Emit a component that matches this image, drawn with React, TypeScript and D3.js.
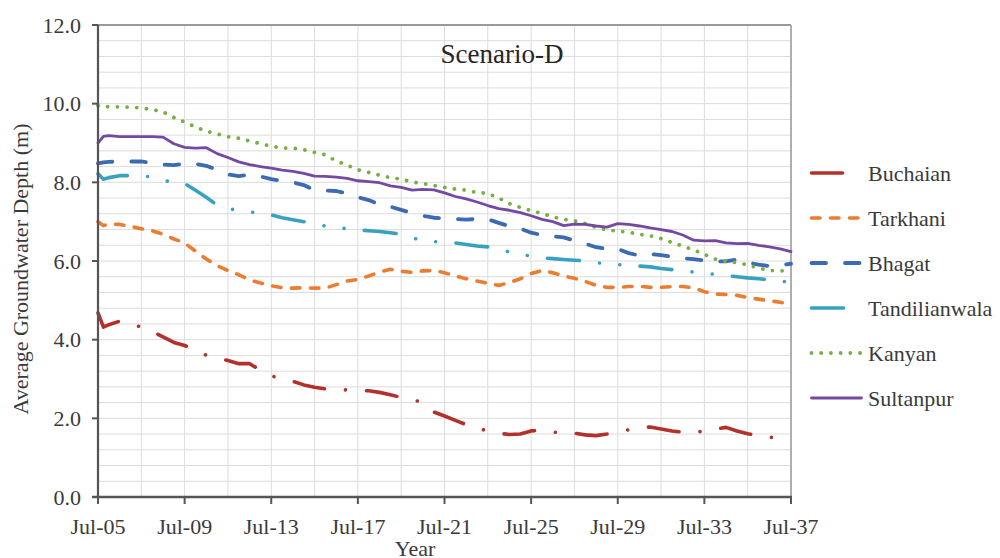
import React from "react";
import * as d3 from "d3";

// ---- Data ----
const DATES = [
  "2005-07", "2005-10", "2006-01", "2006-07", "2007-01", "2007-07", "2008-01", "2008-07",
  "2009-01", "2009-07", "2010-01", "2010-07", "2011-01", "2011-07", "2012-01", "2012-07",
  "2013-01", "2013-07", "2014-01", "2014-07", "2015-01", "2015-07", "2016-01", "2016-07",
  "2017-01", "2017-07", "2018-01", "2018-07", "2019-01", "2019-07", "2020-01", "2020-07",
  "2021-01", "2021-07", "2022-01", "2022-07", "2023-01", "2023-07", "2024-01", "2024-07",
  "2025-01", "2025-07", "2026-01", "2026-07", "2027-01", "2027-07", "2028-01", "2028-07",
  "2029-01", "2029-07", "2030-01", "2030-07", "2031-01", "2031-07", "2032-01", "2032-07",
  "2033-01", "2033-07", "2034-01", "2034-07", "2035-01", "2035-07", "2036-01", "2036-07",
  "2037-01", "2037-07",
];

const BUCHAIAN = [
  4.68, 4.32, 4.38, 4.47, 4.40, 4.32, 4.21, 4.07, 3.93, 3.85,
  3.75, 3.60, 3.53, 3.47, 3.39, 3.39, 3.22, 3.08, 3.00, 2.94,
  2.85, 2.79, 2.75, 2.74, 2.72, 2.71, 2.70, 2.66, 2.60, 2.53,
  2.48, 2.40, 2.16, 2.06, 1.95, 1.84, 1.75, 1.68, 1.62, 1.59,
  1.60, 1.68, 1.70, 1.65, 1.63, 1.62, 1.58, 1.56, 1.60, 1.65,
  1.71, 1.76, 1.78, 1.73, 1.68, 1.65, 1.65, 1.67, 1.73, 1.77,
  1.68, 1.61, 1.56, 1.52, 1.50, 1.47,
];
const TARKHANI = [
  7.00, 6.90, 6.94, 6.93, 6.88, 6.82, 6.77, 6.68, 6.56, 6.46,
  6.25, 6.05, 5.88, 5.76, 5.65, 5.52, 5.44, 5.37, 5.32, 5.31,
  5.32, 5.31, 5.31, 5.40, 5.49, 5.53, 5.62, 5.72, 5.79, 5.74,
  5.71, 5.75, 5.76, 5.70, 5.62, 5.55, 5.49, 5.43, 5.38, 5.45,
  5.55, 5.68, 5.76, 5.70, 5.62, 5.56, 5.48, 5.38, 5.33, 5.33,
  5.35, 5.36, 5.33, 5.33, 5.35, 5.35, 5.32, 5.22, 5.16, 5.15,
  5.13, 5.07, 5.03, 4.99, 4.95, 4.90,
];
const BHAGAT = [
  8.48, 8.51, 8.52, 8.53, 8.53, 8.53, 8.49, 8.45, 8.44, 8.47,
  8.47, 8.42, 8.32, 8.20, 8.16, 8.19, 8.15, 8.08, 8.04, 8.00,
  7.93, 7.80, 7.79, 7.78, 7.72, 7.62, 7.55, 7.44, 7.38, 7.30,
  7.22, 7.15, 7.10, 7.08, 7.07, 7.05, 7.07, 7.06, 6.97, 6.88,
  6.82, 6.72, 6.66, 6.63, 6.60, 6.52, 6.44, 6.35, 6.31, 6.31,
  6.20, 6.14, 6.18, 6.15, 6.11, 6.07, 6.05, 6.01, 5.99, 5.99,
  6.04, 5.96, 5.91, 5.87, 5.89, 5.93,
];
const TANDILIANWALA = [
  8.22, 8.08, 8.12, 8.17, 8.17, 8.16, 8.14, 8.05, 8.00, 7.97,
  7.80, 7.62, 7.42, 7.33, 7.29, 7.25, 7.21, 7.17, 7.10, 7.05,
  7.00, 6.94, 6.89, 6.85, 6.82, 6.79, 6.77, 6.75, 6.72, 6.68,
  6.59, 6.52, 6.49, 6.48, 6.46, 6.42, 6.38, 6.36, 6.29, 6.23,
  6.18, 6.12, 6.08, 6.06, 6.04, 6.02, 6.00, 5.96, 5.93, 5.91,
  5.89, 5.87, 5.85, 5.81, 5.78, 5.75, 5.72, 5.69, 5.66, 5.63,
  5.60, 5.57, 5.55, 5.52, 5.49, 5.46,
];
const KANYAN = [
  9.95, 9.93, 9.92, 9.92, 9.91, 9.89, 9.85, 9.79, 9.65, 9.53,
  9.41, 9.30, 9.23, 9.16, 9.12, 9.05, 8.98, 8.92, 8.87, 8.87,
  8.83, 8.76, 8.70, 8.54, 8.44, 8.32, 8.25, 8.18, 8.12, 8.08,
  8.01, 7.97, 7.92, 7.87, 7.83, 7.80, 7.74, 7.72, 7.60, 7.46,
  7.36, 7.28, 7.21, 7.12, 7.06, 7.02, 6.95, 6.85, 6.79, 6.76,
  6.73, 6.68, 6.64, 6.57, 6.47, 6.38, 6.28, 6.17, 6.05, 5.99,
  5.96, 5.90, 5.82, 5.76, 5.75, 5.75,
];
const SULTANPUR = [
  9.00, 9.17, 9.19, 9.16, 9.16, 9.16, 9.16, 9.15, 8.98, 8.89,
  8.87, 8.88, 8.73, 8.63, 8.52, 8.45, 8.40, 8.36, 8.31, 8.28,
  8.23, 8.16, 8.15, 8.13, 8.10, 8.04, 8.02, 7.99, 7.91, 7.87,
  7.80, 7.82, 7.81, 7.73, 7.64, 7.58, 7.50, 7.41, 7.33, 7.29,
  7.23, 7.15, 7.06, 7.00, 6.90, 6.94, 6.93, 6.89, 6.86, 6.95,
  6.93, 6.89, 6.84, 6.80, 6.75, 6.66, 6.53, 6.51, 6.52, 6.46,
  6.44, 6.45, 6.40, 6.36, 6.31, 6.24,
];

const SERIES_NAMES = ["Buchaian", "Tarkhani", "Bhagat", "Tandilianwala", "Kanyan", "Sultanpur"];
const SERIES_VALUES = [BUCHAIAN, TARKHANI, BHAGAT, TANDILIANWALA, KANYAN, SULTANPUR];

const X_TICKS = ["2005-07", "2009-07", "2013-07", "2017-07", "2021-07", "2025-07", "2029-07", "2033-07", "2037-07"];
const Y_TICKS = [0, 2, 4, 6, 8, 10, 12];

const TITLE = "Scenario-D";
const Y_TITLE = "Average Groundwater Depth (m)";
const X_TITLE = "Year";

// ---- Styles ----
const STYLES = [
  { color: "#B3312C", dash: "31 21 0.01 21", width: 3.6 },
  { color: "#EC7D30", dash: "8.5 10.5", width: 3.6 },
  { color: "#3C6BB3", dash: "14.5 19", width: 3.8 },
  { color: "#37A1BF", dash: "32 20.3 0.01 20.3 0.01 20.3", width: 3.6 },
  { color: "#74AF3F", dash: "0.01 9.7", width: 3.8 },
  { color: "#7449A1", dash: "", width: 2.8 },
];

const FONT = "'Liberation Serif', 'Times New Roman', serif";
const TEXT = "#3a3a3a";

export default function App() {
  const W = 1000, H = 558;
  const L = 98, R = 791, T = 25, B = 497;
  const parse = d3.timeParse("%Y-%m");
  const dates = DATES.map((d) => parse(d) as Date);
  const x = d3.scaleTime().domain([parse("2005-07") as Date, parse("2037-07") as Date]).range([L, R]);
  const y = d3.scaleLinear().domain([0, 12]).range([B, T]);
  const fmt = d3.timeFormat("%b-%y");

  const gridX = d3.range(2005, 2038, 2).map((yr) => new Date(yr, 6, 1));
  const gridY = d3.range(1, 30).map((i) => i * 0.4);

  const line = d3
    .line<number>()
    .x((_, i) => x(dates[i]))
    .y((v) => y(v));

  const legendX0 = 811.5, legendX1 = 861.5, legendY0 = 173, legendDY = 45;

  return (
    <svg width={W} height={H} style={{ position: "absolute", left: 0, top: 0, background: "#fff" }}>
      <rect x={0} y={0} width={W} height={H} fill="#fff" />
      {/* grid */}
      <g stroke="#dcdcdc" strokeWidth={1}>
        {gridY.map((v, i) => (
          <line key={"gy" + i} x1={L} x2={R} y1={y(v)} y2={y(v)} />
        ))}
        {gridX.map((d, i) => (
          <line key={"gx" + i} x1={x(d)} x2={x(d)} y1={T} y2={B} />
        ))}
      </g>
      {/* plot border */}
      <line x1={L} x2={R} y1={T} y2={T} stroke="#9a9a9a" strokeWidth={1.8} />
      <line x1={R} x2={R} y1={T} y2={B} stroke="#a8a8a8" strokeWidth={1.8} />

      {/* series */}
      {SERIES_VALUES.map((vals, si) => {
        const n = Math.min(vals.length, dates.length);
        const st = STYLES[si];
        return (
          <path
            key={SERIES_NAMES[si]}
            d={line(vals.slice(0, n)) || ""}
            fill="none"
            stroke={st.color}
            strokeWidth={st.width}
            strokeDasharray={st.dash || undefined}
            strokeLinecap="round"
            strokeLinejoin="round"
          />
        );
      })}

      {/* axes */}
      <line x1={L} x2={L} y1={T} y2={B + 1} stroke="#555" strokeWidth={2.2} />
      <line x1={L - 6} x2={R + 1} y1={B} y2={B} stroke="#555" strokeWidth={2.4} />
      {Y_TICKS.map((v) => (
        <g key={"yt" + v}>
          <line x1={L - 6} x2={L} y1={y(v)} y2={y(v)} stroke="#555" strokeWidth={2} />
          <text x={81} y={y(v) + 7.5} textAnchor="end" fontFamily={FONT} fontSize={22} fill={TEXT}>
            {d3.format(".1f")(v)}
          </text>
        </g>
      ))}
      {X_TICKS.map((s) => {
        const d = parse(s) as Date;
        return (
          <g key={"xt" + s}>
            <line x1={x(d)} x2={x(d)} y1={B} y2={B + 7} stroke="#555" strokeWidth={2} />
            <text x={x(d)} y={534} textAnchor="middle" fontFamily={FONT} fontSize={22} fill={TEXT}>
              {fmt(d)}
            </text>
          </g>
        );
      })}

      {/* titles */}
      <text x={502} y={63} textAnchor="middle" fontFamily={FONT} fontSize={27} fill="#262626">
        {TITLE}
      </text>
      <text
        transform={`translate(28, ${(T + B) / 2 + 8}) rotate(-90)`}
        textAnchor="middle"
        fontFamily={FONT}
        fontSize={22}
        fill={TEXT}
      >
        {Y_TITLE}
      </text>
      <text x={415} y={556} textAnchor="middle" fontFamily={FONT} fontSize={22} fill={TEXT}>
        {X_TITLE}
      </text>

      {/* legend */}
      {SERIES_NAMES.map((name, i) => {
        const st = STYLES[i];
        const ly = legendY0 + i * legendDY;
        return (
          <g key={"lg" + name}>
            <path
              d={`M${legendX0},${ly}L${legendX1},${ly}`}
              stroke={st.color}
              strokeWidth={st.width}
              strokeDasharray={st.dash || undefined}
              strokeLinecap="round"
              fill="none"
            />
            <text x={868} y={ly + 7.5} fontFamily={FONT} fontSize={22} fill={TEXT}>
              {name}
            </text>
          </g>
        );
      })}
    </svg>
  );
}
